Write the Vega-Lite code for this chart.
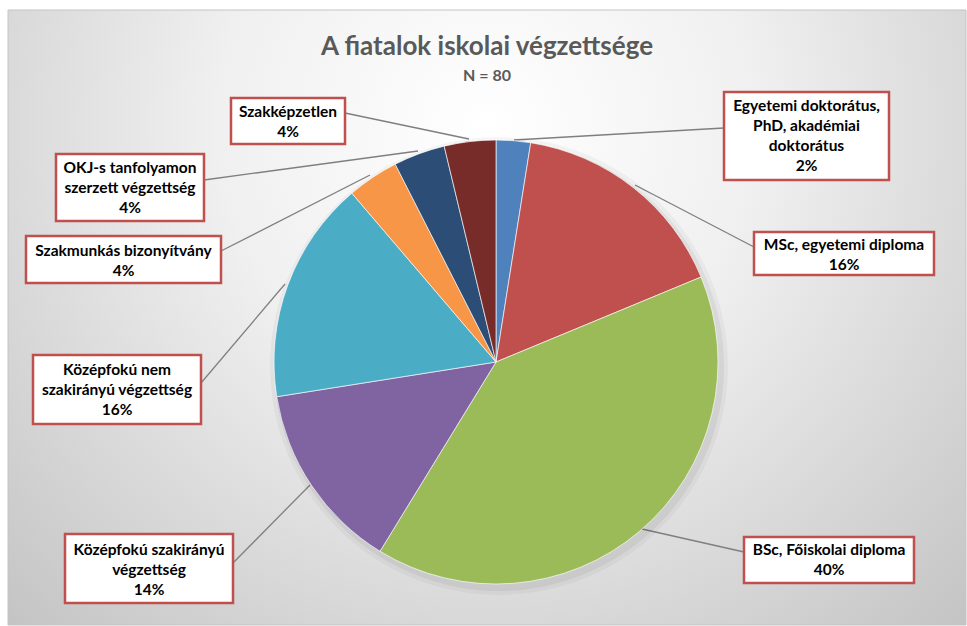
{
  "$schema": "https://vega.github.io/schema/vega-lite/v6.json",
  "width": 967,
  "height": 626,
  "autosize": {"type": "fit", "contains": "padding"},
  "padding": {"left": 7, "top": 9, "right": 0, "bottom": 0},
  "background": "#ffffff",
  "config": {"view": {"stroke": null}},
  "title": {
    "text": "A fiatalok iskolai végzettsége",
    "subtitle": "N = 80",
    "anchor": "middle",
    "offset": -74,
    "font": "Lato",
    "fontSize": 26,
    "fontWeight": "bold",
    "color": "#595959",
    "subtitleFont": "Lato",
    "subtitleFontSize": 16,
    "subtitleFontWeight": "bold",
    "subtitleColor": "#595959",
    "subtitlePadding": 8
  },
  "data": {
    "values": [
      {"sorszam": 1, "kat": "Egyetemi doktorátus, PhD, akadémiai doktorátus", "n": 2, "cimke": ["Egyetemi doktorátus,", "PhD, akadémiai", "doktorátus", "2%"]},
      {"sorszam": 2, "kat": "MSc, egyetemi diploma", "n": 13, "cimke": ["MSc, egyetemi diploma", "16%"]},
      {"sorszam": 3, "kat": "BSc, Főiskolai diploma", "n": 32, "cimke": ["BSc, Főiskolai diploma", "40%"]},
      {"sorszam": 4, "kat": "Középfokú szakirányú végzettség", "n": 11, "cimke": ["Középfokú szakirányú", "végzettség", "14%"]},
      {"sorszam": 5, "kat": "Középfokú nem szakirányú végzettség", "n": 13, "cimke": ["Középfokú nem", "szakirányú végzettség", "16%"]},
      {"sorszam": 6, "kat": "Szakmunkás bizonyítvány", "n": 3, "cimke": ["Szakmunkás bizonyítvány", "4%"]},
      {"sorszam": 7, "kat": "OKJ-s tanfolyamon szerzett végzettség", "n": 3, "cimke": ["OKJ-s tanfolyamon", "szerzett végzettség", "4%"]},
      {"sorszam": 8, "kat": "Szakképzetlen", "n": 3, "cimke": ["Szakképzetlen", "4%"]}
    ]
  },
  "transform": [
    {"calculate": "datum.sorszam + 10", "as": "k1"},
    {"calculate": "datum.sorszam + 20", "as": "k2"},
    {"calculate": "datum.sorszam + 30", "as": "k3"},
    {"calculate": "datum.sorszam + 40", "as": "k4"}
  ],
  "layer": [
    {
      "transform": [{"filter": "datum.sorszam == 1"}],
      "mark": {
        "type": "rect",
        "fill": {
          "gradient": "radial",
          "x1": 0.5, "y1": 0.3, "r1": 0,
          "x2": 0.5, "y2": 0.3, "r2": 0.8,
          "stops": [
            {"offset": 0, "color": "#ffffff"},
            {"offset": 0.35, "color": "#f0f0f0"},
            {"offset": 1, "color": "#bcbcbc"}
          ]
        },
        "stroke": "#c4c4c4",
        "strokeWidth": 1
      }
    },
    {
      "mark": {"type": "rule", "color": "#7f7f7f", "strokeWidth": 1.3},
      "encoding": {
        "x": {"field": "k3", "type": "quantitative", "axis": null,
          "scale": {"type": "linear", "zero": false, "nice": false,
            "domain": [1,2,3,4,5,6,7,8,11,12,13,14,15,16,17,18,21,22,23,24,25,26,27,28,31,32,33,34,35,36,37,38,41,42,43,44,45,46,47,48,50,51],
            "range": [798.5,836,821,141,109,115.5,122,280,716,746,736,57,25,18,48,223,881,926,906,225,193,213,196,337,506,627,634,302,277,362,410,461,716,746,736,225,193,213,196,337,488,491]}},
        "y": {"field": "k3", "type": "quantitative", "axis": null,
          "scale": {"type": "linear", "zero": false, "nice": false,
            "domain": [1,2,3,4,5,6,7,8,11,12,13,14,15,16,17,18,21,22,23,24,25,26,27,28,31,32,33,34,35,36,37,38,41,42,43,44,45,46,47,48,50,51],
            "range": [96,235,540,540,360,241,157.5,102,82,222,527,524,345,226,144,88,170,265,573,593,414,273,211,134,130,175,519,475,274,165,141,129,118,237,542,553,373,241,170,103,352,356]}},
        "x2": {"field": "k4"},
        "y2": {"field": "k4"}
      }
    },
    {
      "transform": [{"filter": "datum.sorszam == 1"}],
      "mark": {"type": "arc", "theta": 0, "theta2": 6.2832, "outerRadius": 229, "fill": "#000000", "fillOpacity": 0.035},
      "encoding": {
        "x": {"datum": 51, "type": "quantitative"},
        "y": {"datum": 51, "type": "quantitative"}
      }
    },
    {
      "transform": [{"filter": "datum.sorszam == 1"}],
      "mark": {"type": "arc", "theta": 0, "theta2": 6.2832, "outerRadius": 225, "fill": "#000000", "fillOpacity": 0.05},
      "encoding": {
        "x": {"datum": 51, "type": "quantitative"},
        "y": {"datum": 51, "type": "quantitative"}
      }
    },
    {
      "mark": {"type": "arc", "outerRadius": 222, "stroke": "#ffffff", "strokeWidth": 0.8, "strokeOpacity": 0.8},
      "encoding": {
        "theta": {"field": "n", "type": "quantitative", "stack": true},
        "order": {"field": "sorszam", "type": "quantitative", "sort": "ascending"},
        "color": {"field": "kat", "type": "nominal", "legend": null,
          "scale": {
            "domain": ["Egyetemi doktorátus, PhD, akadémiai doktorátus", "MSc, egyetemi diploma", "BSc, Főiskolai diploma", "Középfokú szakirányú végzettség", "Középfokú nem szakirányú végzettség", "Szakmunkás bizonyítvány", "OKJ-s tanfolyamon szerzett végzettség", "Szakképzetlen"],
            "range": ["#4F81BD", "#C0504D", "#9BBB59", "#8064A2", "#4BACC6", "#F79646", "#2C4D75", "#772C2A"]
          }},
        "x": {"datum": 50, "type": "quantitative"},
        "y": {"datum": 50, "type": "quantitative"}
      }
    },
    {
      "mark": {"type": "rect", "fill": "#ffffff", "stroke": "#C0504D", "strokeWidth": 2.5},
      "encoding": {
        "x": {"field": "k1", "type": "quantitative"},
        "x2": {"field": "k2"},
        "y": {"field": "k1", "type": "quantitative"},
        "y2": {"field": "k2"}
      }
    },
    {
      "mark": {"type": "text", "align": "center", "baseline": "middle", "font": "Lato", "fontWeight": "bold", "fontSize": 15.5, "lineHeight": 20, "color": "#000000"},
      "encoding": {
        "x": {"field": "sorszam", "type": "quantitative"},
        "y": {"field": "sorszam", "type": "quantitative"},
        "text": {"field": "cimke"}
      }
    }
  ]
}
